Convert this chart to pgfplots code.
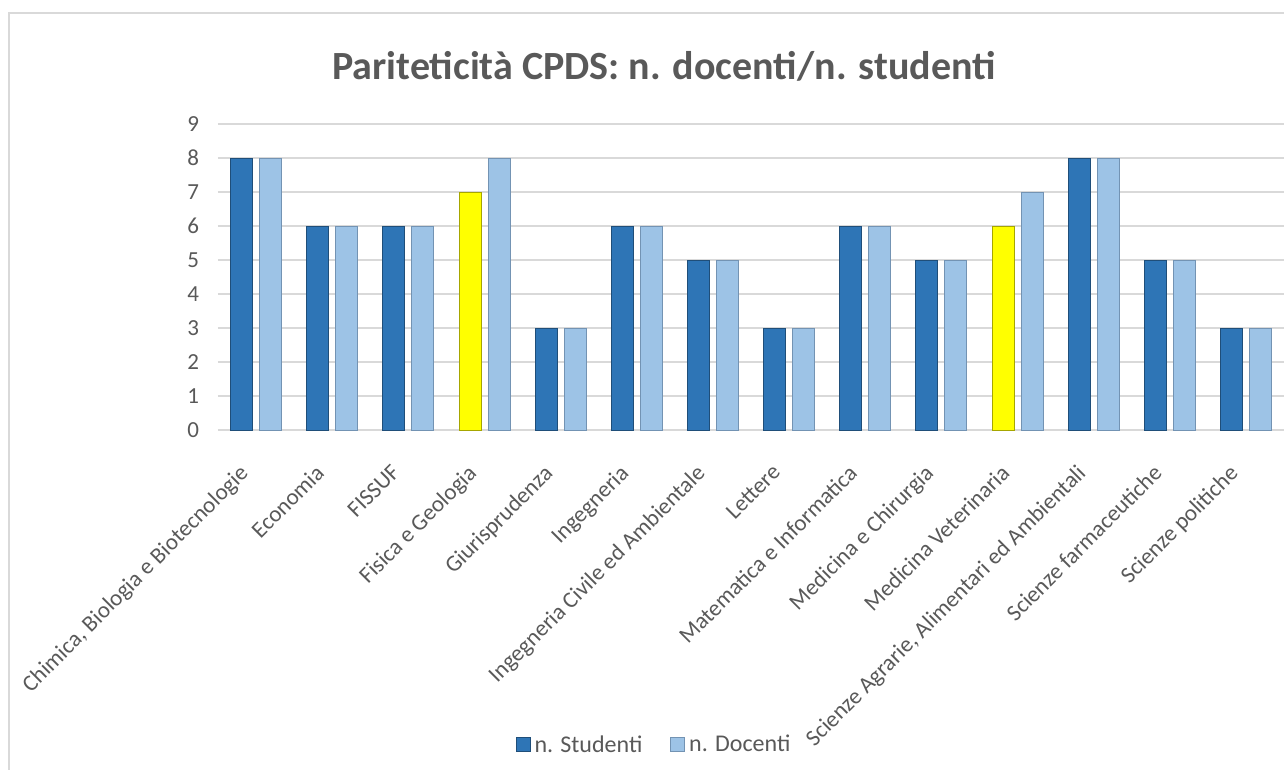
\documentclass[border=0pt]{standalone}
\usepackage{pgfplots}
\pgfplotsset{compat=1.18}
\usepackage{fontspec}
\setmainfont{Carlito}
\definecolor{txt}{HTML}{595959}
\definecolor{grd}{HTML}{D9D9D9}
\definecolor{dblue}{HTML}{2E75B6}
\definecolor{dblueE}{HTML}{1F4E79}
\definecolor{lblue}{HTML}{9DC3E6}
\definecolor{lblueE}{HTML}{7393B3}
\definecolor{yel}{HTML}{FFFF00}
\definecolor{yelE}{HTML}{A6A600}
\begin{document}
\begin{tikzpicture}
\useasboundingbox (-109pt,-170pt) rectangle (533pt,215pt);
\draw[grd, line width=1pt] (-104.5pt,-180pt) rectangle (545pt,208.5pt);
\begin{axis}[
  at={(0,0)}, anchor=south west,
  width=533pt, height=153pt, scale only axis,
  xmin=-0.5, xmax=13.5, ymin=0, ymax=9,
  ybar, bar width=11pt,
  xtick={0,1,...,13},
  xticklabels={{Chimica, Biologia e Biotecnologie},Economia,FISSUF,Fisica e Geologia,Giurisprudenza,Ingegneria,Ingegneria Civile ed Ambientale,Lettere,Matematica e Informatica,Medicina e Chirurgia,Medicina Veterinaria,{Scienze Agrarie, Alimentari ed Ambientali},Scienze farmaceutiche,Scienze politiche},
  xticklabel style={xshift=-9pt, yshift=-15pt, rotate=45, anchor=north east, font=\fontsize{11.5}{13}\selectfont, text=txt, inner sep=1pt},
  ytick={0,1,...,9},
  /pgf/number format/assume math mode=true,
  yticklabel style={font=\fontsize{11.5}{13}\selectfont, text=txt, xshift=-6pt},
  major tick length=0pt,
  ymajorgrids, grid style={grd, line width=0.8pt},
  axis line style={draw=none},
  legend style={at={(0.41,-1.03)}, anchor=center, draw=none, fill=none, legend columns=2,
    font=\fontsize{12}{14}\selectfont, text=txt, /tikz/every even column/.append style={column sep=12pt}},
  legend image code/.code={\fill[#1] (0pt,-3pt) rectangle (7pt,4pt);},
  clip=false,
]
\addplot[fill=dblue, draw=dblueE, bar shift=-7.25pt] coordinates {
(0,8) (1,6) (2,6) (4,3) (5,6) (6,5) (7,3) (8,6) (9,5) (11,8) (12,5) (13,3)};
\addlegendentry{n. Studenti}
\addplot[fill=lblue, draw=lblueE, bar shift=7.25pt] coordinates {
(0,8) (1,6) (2,6) (3,8) (4,3) (5,6) (6,5) (7,3) (8,6) (9,5) (10,7) (11,8) (12,5) (13,3)};
\addlegendentry{n. Docenti}
\addplot[fill=yel, draw=yelE, bar shift=-7.25pt, forget plot] coordinates {
(3,7) (10,6)};
\end{axis}
\node[text=txt, font=\fontsize{20}{24}\selectfont\bfseries] at (223pt,182pt) {Pariteticità CPDS: n. docenti/n. studenti};
\end{tikzpicture}
\end{document}
